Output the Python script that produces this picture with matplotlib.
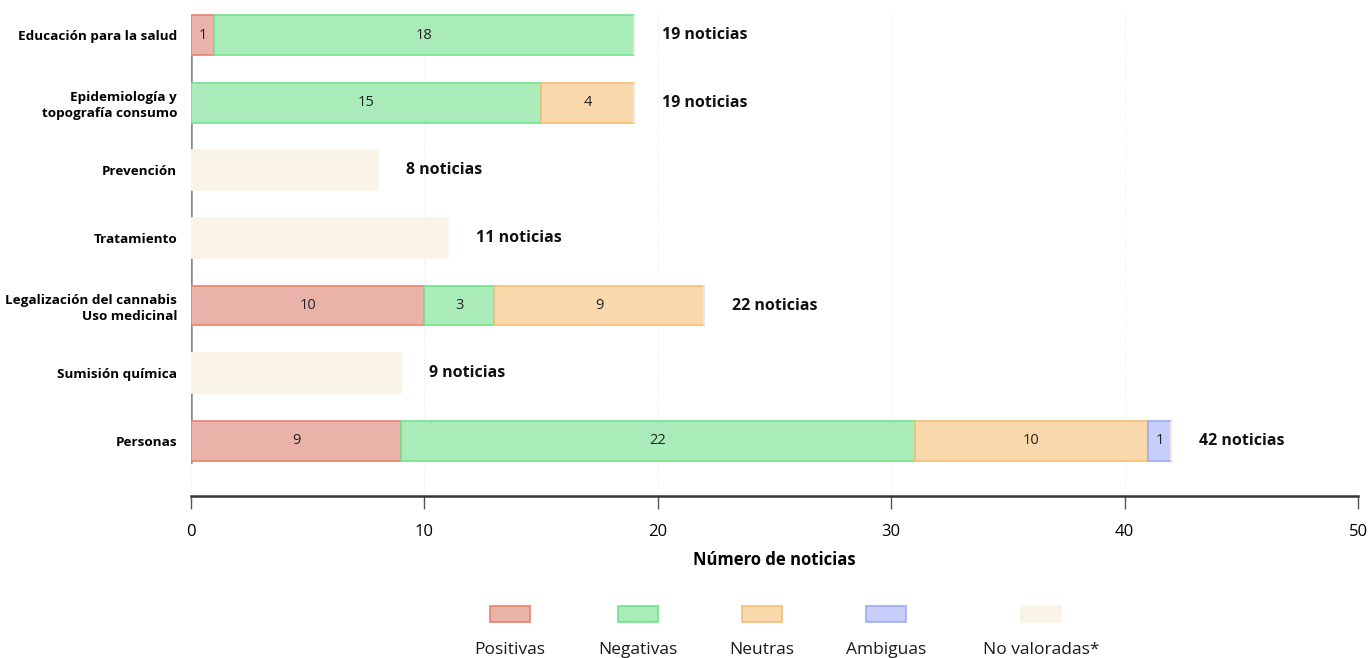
import matplotlib.pyplot as plt
from matplotlib.patches import Rectangle
import numpy as np

plt.rcParams['font.family'] = ['Open Sans', 'DejaVu Sans']

# Data
categories = ['Educación para la salud', 'Epidemiología y\ntopografía consumo', 'Prevención',
              'Tratamiento', 'Legalización del cannabis\nUso medicinal', 'Sumisión química', 'Personas']
positivas = [1, 0, 0, 0, 10, 0, 9]
negativas = [18, 15, 0, 0, 3, 0, 22]
neutras = [0, 4, 0, 0, 9, 0, 10]
ambiguas = [0, 0, 0, 0, 0, 0, 1]
no_valoradas = [0, 0, 8, 11, 0, 9, 0]
series_names = ['Positivas', 'Negativas', 'Neutras', 'Ambiguas', 'No valoradas*']

fills = ['#eab3aa', '#a9ecb9', '#f9d9ab', '#c6cef9', '#faf3e8']
edges = ['#e9826f', '#72e28d', '#f6bd76', '#9dabf6', '#faf3e8']

series = [positivas, negativas, neutras, ambiguas, no_valoradas]

fig = plt.figure(figsize=(13.71, 6.58), dpi=100)
ax = fig.add_axes([191 / 1371, 162 / 658, 1167 / 1371, 483 / 658])

y = np.arange(len(categories))
left = np.zeros(len(categories))
for i, (vals, fc, ec) in enumerate(zip(series, fills, edges)):
    vals = np.array(vals, dtype=float)
    bars = ax.barh(y, vals, left=left, height=0.59, color=fc, edgecolor=ec, linewidth=1.2, zorder=3)
    if i < 4:
        for b, v in zip(bars, vals):
            if v > 0:
                ax.text(b.get_x() + b.get_width() / 2, b.get_y() + b.get_height() / 2, f'{int(v)}',
                        ha='center', va='center', fontsize=10.5, color='#222222', zorder=4)
    left += vals

# totals
for yi, tot in zip(y, left):
    ax.text(tot + 1.2, yi, f'{int(tot)} noticias', ha='left', va='center',
            fontsize=11.5, fontweight='bold', color='#111111')

ax.set_xlim(0, 50)
ax.set_ylim(6.82, -0.33)
ax.set_yticks(y)
ax.set_yticklabels(categories, fontsize=9.7, fontweight='bold', linespacing=1.25)
ax.tick_params(axis='y', length=0, pad=10)
ax.set_xticks([0, 10, 20, 30, 40, 50])
ax.tick_params(axis='x', length=9, width=1, color='#555555', labelsize=12, pad=11)
ax.set_xlabel('Número de noticias', fontsize=12, fontweight='bold', labelpad=8)

for s in ['top', 'right', 'left']:
    ax.spines[s].set_visible(False)
ax.spines['bottom'].set_linewidth(1.8)
ax.spines['bottom'].set_color('#333333')

ax.xaxis.grid(True, linestyle=':', color='#ebebeb', linewidth=0.8, zorder=0)
ax.axvline(0, ymin=0.07, ymax=0.955, color='#888888', linewidth=1.8, zorder=2)

# legend (handles above labels)
leg_x = [510, 638, 762, 886, 1041]
for cx, name, fc, ec in zip(leg_x, series_names, fills, edges):
    fig.add_artist(Rectangle(((cx - 20) / 1371, (658 - 622) / 658), 40 / 1371, 16 / 658,
                             transform=fig.transFigure, facecolor=fc, edgecolor=ec, linewidth=1.2))
    fig.text(cx / 1371, (658 - 650) / 658, name, ha='center', va='center', fontsize=12.5, color='#1a1a1a')

plt.savefig('out.png', dpi=100)
